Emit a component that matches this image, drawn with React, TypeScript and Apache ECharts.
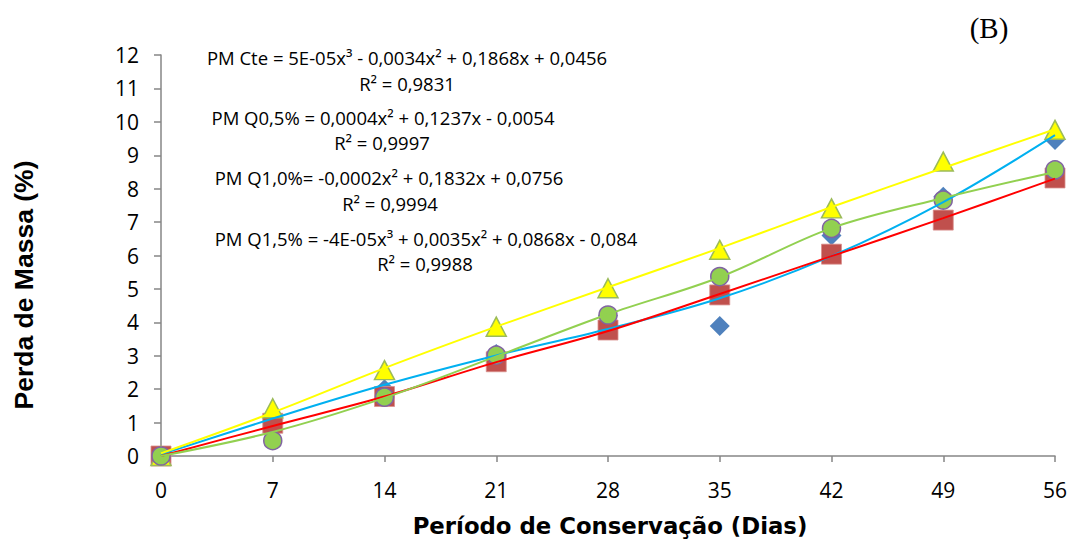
import React, { useEffect, useRef } from "react";
import * as echarts from "echarts";

const days = [0, 7, 14, 21, 28, 35, 42, 49, 56];
const xTicks = [0, 7, 14, 21, 28, 35, 42, 49, 56];
const cte = [0, 1.15, 2.0, 3.05, 4.2, 3.89, 6.6, 7.76, 9.46];
const q05 = [0, 0.98, 1.78, 2.82, 3.77, 4.82, 6.04, 7.06, 8.32];
const q10 = [0, 1.43, 2.57, 3.87, 5.02, 6.17, 7.41, 8.81, 9.76];
const q15 = [0, 0.46, 1.76, 3.02, 4.22, 5.37, 6.81, 7.66, 8.56];
const trendCte = [0.05, 1.12, 2.13, 3.01, 3.8, 4.72, 5.98, 7.6, 9.6];
const trendQ05 = [0, 0.9, 1.78, 2.81, 3.74, 4.85, 5.98, 7.12, 8.3];
const trendQ10 = [0.08, 1.3, 2.63, 3.87, 5.05, 6.22, 7.45, 8.62, 9.78];
const trendQ15 = [0, 0.72, 1.74, 2.98, 4.24, 5.35, 6.82, 7.72, 8.5];
const equations = [
  "PM Cte = 5E-05x³ - 0,0034x² + 0,1868x + 0,0456",
  "R² = 0,9831",
  "PM Q0,5% = 0,0004x² + 0,1237x - 0,0054",
  "R² = 0,9997",
  "PM Q1,0%= -0,0002x² + 0,1832x + 0,0756",
  "R² = 0,9994",
  "PM Q1,5% = -4E-05x³ + 0,0035x² + 0,0868x - 0,084",
  "R² = 0,9988",
];
const eqPos = [
  [407, 57], [407, 83], [383, 117], [382, 142],
  [389, 177], [390, 203], [426, 238], [425, 263],
];

const pairs = (ys: number[]) => days.map((d, i) => [d, ys[i]]);

export default function App() {
  const ref = useRef<HTMLDivElement>(null);
  useEffect(() => {
    const chart = echarts.init(ref.current!, undefined, { renderer: "svg" });
    const axisLine = { lineStyle: { color: "#868686", width: 1.5 } };
    const lineSeries = (data: number[], color: string) => ({
      type: "line",
      data: pairs(data),
      smooth: 0.35,
      symbol: "none",
      lineStyle: { color, width: 2 },
      z: 10,
    });
    chart.setOption({
      animation: false,
      backgroundColor: "#ffffff",
      grid: { left: 161, right: 17, top: 55, bottom: 92 },
      xAxis: {
        type: "value",
        min: 0,
        max: 56,
        interval: 7,
        axisLine,
        axisTick: { show: true, length: 6, lineStyle: { color: "#868686", width: 1.5 } },
        splitLine: { show: false },
        axisLabel: {
          margin: 23,
          fontFamily: "Open Sans",
          fontSize: 21,
          color: "#000",
          formatter: (v: number) => (xTicks.includes(v) ? String(v) : ""),
        },
      },
      yAxis: {
        type: "value",
        min: 0,
        max: 12,
        interval: 1,
        axisLine: { show: true, ...axisLine },
        axisTick: { show: true, length: 7, lineStyle: { color: "#868686", width: 1.5 } },
        splitLine: { show: false },
        axisLabel: { margin: 22, fontFamily: "Open Sans", fontSize: 21, color: "#000" },
      },
      series: [
        {
          type: "scatter",
          data: pairs(cte),
          symbol: "diamond",
          symbolSize: [20, 20],
          itemStyle: { color: "#4F81BD", opacity: 1 },
          z: 2,
        },
        {
          type: "scatter",
          data: pairs(q05),
          symbol: "rect",
          symbolSize: [20, 20],
          itemStyle: { color: "#C0504D", borderColor: "#D9908E", borderWidth: 0.8, opacity: 1 },
          z: 3,
        },
        {
          type: "scatter",
          data: pairs(q10),
          symbol: "triangle",
          symbolSize: [20, 19],
          itemStyle: { color: "#FFFF00", borderColor: "#9BBB59", borderWidth: 1.5, opacity: 1 },
          z: 4,
        },
        {
          type: "scatter",
          data: pairs(q15),
          symbol: "circle",
          symbolSize: 18,
          itemStyle: { color: "#92D050", borderColor: "#8064A2", borderWidth: 1.5, opacity: 1 },
          z: 5,
        },
        lineSeries(trendCte, "#00B0F0"),
        lineSeries(trendQ05, "#FF0000"),
        lineSeries(trendQ10, "#FFFF00"),
        lineSeries(trendQ15, "#92D050"),
      ],
      graphic: [
        ...equations.map((t, i) => ({
          type: "text",
          x: eqPos[i][0],
          y: eqPos[i][1],
          style: {
            text: t,
            fontFamily: "Open Sans",
            fontSize: 18.5,
            fill: "#000",
            align: "center",
            verticalAlign: "middle",
          },
          z: 20,
        })),
        {
          type: "text",
          x: 24,
          y: 285,
          rotation: Math.PI / 2,
          style: {
            text: "Perda de Massa (%)",
            fontFamily: "Liberation Sans",
            fontWeight: "bold",
            fontSize: 26.5,
            fill: "#000",
            align: "center",
            verticalAlign: "middle",
          },
        },
        {
          type: "text",
          x: 610,
          y: 526,
          style: {
            text: "Período de Conservação (Dias)",
            fontFamily: "DejaVu Sans",
            fontWeight: "bold",
            fontSize: 22.8,
            fill: "#000",
            align: "center",
            verticalAlign: "middle",
          },
        },
        {
          type: "text",
          x: 989,
          y: 28,
          style: {
            text: "(B)",
            fontFamily: "Liberation Serif",
            fontSize: 29,
            fill: "#000",
            align: "center",
            verticalAlign: "middle",
          },
        },
      ],
    });
    return () => chart.dispose();
  }, []);
  return (
    <div
      ref={ref}
      style={{ position: "fixed", left: 0, top: 0, width: 1072, height: 548, background: "#fff" }}
    />
  );
}
